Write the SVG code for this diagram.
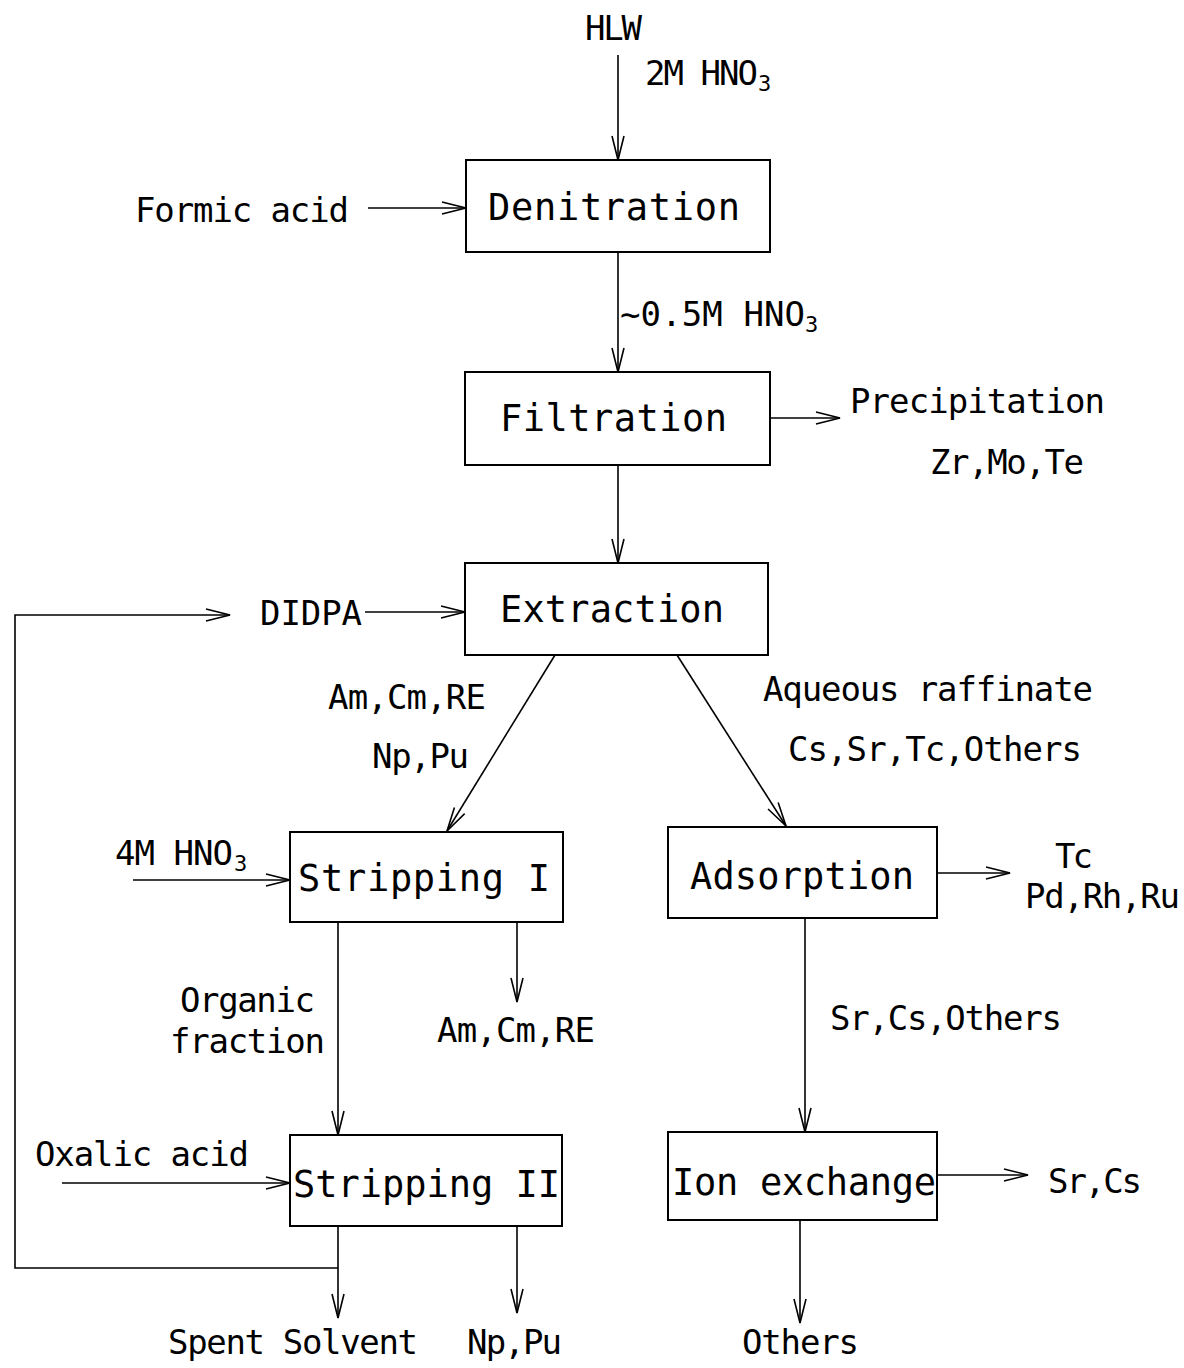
<svg xmlns="http://www.w3.org/2000/svg" width="1184" height="1368" viewBox="0 0 1184 1368">
<style>
text{font-family:"DejaVu Sans Mono","Liberation Mono",monospace;font-size:34px;fill:#000}
.bx{font-size:37px}
.sub{font-size:22px}
.box{fill:#fff;stroke:#000;stroke-width:2}
.ln{fill:none;stroke:#000;stroke-width:1.6}
</style>
<defs>
<marker id="ah" markerUnits="userSpaceOnUse" viewBox="-26 -8 28 16" refX="0" refY="0" markerWidth="28" markerHeight="16" orient="auto">
<path d="M-24,-6 L0,0 L-24,6" fill="none" stroke="#000" stroke-width="1.6"/>
</marker>
</defs>
<rect width="1184" height="1368" fill="#fff"/>
<g id="connectors">
<line class="ln" x1="618" y1="55" x2="618" y2="160" marker-end="url(#ah)"/>
<line class="ln" x1="368" y1="208" x2="466" y2="208" marker-end="url(#ah)"/>
<line class="ln" x1="618" y1="252" x2="618" y2="372" marker-end="url(#ah)"/>
<line class="ln" x1="770" y1="418" x2="840" y2="418" marker-end="url(#ah)"/>
<line class="ln" x1="618" y1="465" x2="618" y2="563" marker-end="url(#ah)"/>
<polyline class="ln" points="338,1268 15,1268 15,615 230,615" marker-end="url(#ah)"/>
<line class="ln" x1="365" y1="612" x2="465" y2="612" marker-end="url(#ah)"/>
<line class="ln" x1="555" y1="655" x2="447" y2="831" marker-end="url(#ah)"/>
<line class="ln" x1="677" y1="655" x2="786" y2="826" marker-end="url(#ah)"/>
<line class="ln" x1="133" y1="880" x2="290" y2="880" marker-end="url(#ah)"/>
<line class="ln" x1="338" y1="922" x2="338" y2="1135" marker-end="url(#ah)"/>
<line class="ln" x1="517" y1="922" x2="517" y2="1002" marker-end="url(#ah)"/>
<line class="ln" x1="62" y1="1183" x2="290" y2="1183" marker-end="url(#ah)"/>
<line class="ln" x1="338" y1="1226" x2="338" y2="1318" marker-end="url(#ah)"/>
<line class="ln" x1="517" y1="1226" x2="517" y2="1313" marker-end="url(#ah)"/>
<line class="ln" x1="937" y1="873" x2="1010" y2="873" marker-end="url(#ah)"/>
<line class="ln" x1="805" y1="918" x2="805" y2="1132" marker-end="url(#ah)"/>
<line class="ln" x1="937" y1="1175" x2="1028" y2="1175" marker-end="url(#ah)"/>
<line class="ln" x1="800" y1="1220" x2="800" y2="1323" marker-end="url(#ah)"/>
</g>
<g id="labels">
<text x="585" y="40" textLength="57" lengthAdjust="spacing">HLW</text>
<text><tspan x="645" y="85" textLength="113" lengthAdjust="spacing">2M HNO</tspan><tspan class="sub" x="758" y="91">3</tspan></text>
<text x="135" y="222" textLength="214" lengthAdjust="spacing">Formic acid</text>
<text><tspan x="620" y="326" textLength="185" lengthAdjust="spacing">~0.5M HNO</tspan><tspan class="sub" x="805" y="332">3</tspan></text>
<text x="850" y="413" textLength="255" lengthAdjust="spacing">Precipitation</text>
<text x="930" y="474" textLength="154" lengthAdjust="spacing">Zr,Mo,Te</text>
<text x="260" y="625" textLength="102" lengthAdjust="spacing">DIDPA</text>
<text x="328" y="709" textLength="158" lengthAdjust="spacing">Am,Cm,RE</text>
<text x="372" y="768" textLength="97" lengthAdjust="spacing">Np,Pu</text>
<text x="763" y="701" textLength="330" lengthAdjust="spacing">Aqueous raffinate</text>
<text x="788" y="761" textLength="294" lengthAdjust="spacing">Cs,Sr,Tc,Others</text>
<text><tspan x="115" y="865" textLength="118" lengthAdjust="spacing">4M HNO</tspan><tspan class="sub" x="234" y="871">3</tspan></text>
<text x="1055" y="868" textLength="38" lengthAdjust="spacing">Tc</text>
<text x="1025" y="908" textLength="155" lengthAdjust="spacing">Pd,Rh,Ru</text>
<text x="180" y="1012" textLength="135" lengthAdjust="spacing">Organic</text>
<text x="170" y="1053" textLength="155" lengthAdjust="spacing">fraction</text>
<text x="437" y="1042" textLength="158" lengthAdjust="spacing">Am,Cm,RE</text>
<text x="830" y="1030" textLength="232" lengthAdjust="spacing">Sr,Cs,Others</text>
<text x="35" y="1166" textLength="214" lengthAdjust="spacing">Oxalic acid</text>
<text x="1048" y="1193" textLength="94" lengthAdjust="spacing">Sr,Cs</text>
<text x="168" y="1354" textLength="250" lengthAdjust="spacing">Spent Solvent</text>
<text x="467" y="1354" textLength="95" lengthAdjust="spacing">Np,Pu</text>
<text x="742" y="1354" textLength="117" lengthAdjust="spacing">Others</text>
</g>
<g id="denitration"><rect class="box" x="466" y="160" width="304" height="92"/><text class="bx" x="488" y="220" textLength="252" lengthAdjust="spacing">Denitration</text></g>
<g id="filtration"><rect class="box" x="465" y="372" width="305" height="93"/><text class="bx" x="500" y="431" textLength="227" lengthAdjust="spacing">Filtration</text></g>
<g id="extraction"><rect class="box" x="465" y="563" width="303" height="92"/><text class="bx" x="500" y="622" textLength="224" lengthAdjust="spacing">Extraction</text></g>
<g id="stripping1"><rect class="box" x="290" y="832" width="273" height="90"/><text class="bx" x="298" y="891" textLength="252" lengthAdjust="spacing">Stripping I</text></g>
<g id="adsorption"><rect class="box" x="668" y="827" width="269" height="91"/><text class="bx" x="690" y="889" textLength="224" lengthAdjust="spacing">Adsorption</text></g>
<g id="stripping2"><rect class="box" x="290" y="1135" width="272" height="91"/><text class="bx" x="293" y="1197" textLength="267" lengthAdjust="spacing">Stripping II</text></g>
<g id="ionexchange"><rect class="box" x="668" y="1132" width="269" height="88"/><text class="bx" x="672" y="1195" textLength="264" lengthAdjust="spacing">Ion exchange</text></g>
</svg>
